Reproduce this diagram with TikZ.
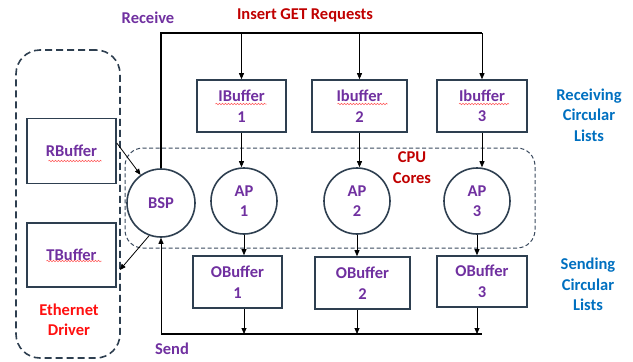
\documentclass[tikz,border=0pt]{standalone}
\usepackage{fontspec}
\setmainfont{Carlito}
\usetikzlibrary{arrows.meta,decorations.pathmorphing}
\definecolor{boxline}{HTML}{2E3F50}
\definecolor{cpuline}{HTML}{3A4A5E}
\definecolor{lblpurple}{HTML}{7030A0}
\definecolor{lbldarkred}{HTML}{C00000}
\definecolor{lblred}{HTML}{FF1010}
\definecolor{lblblue}{HTML}{0070C0}
\begin{document}
\begin{tikzpicture}[x=1pt,y=-1pt,
  txt/.style={font=\fontsize{16.5}{20.5}\selectfont\bfseries, align=center, inner sep=0pt},
  buf/.style={draw=boxline, line width=1.6pt, fill=white, txt, text=lblpurple},
  core/.style={circle, draw=boxline, line width=1.6pt, fill=white, txt, text=lblpurple, minimum size=66pt},
  arr/.style={-{Triangle[length=6pt,width=5pt]}, line width=0.8pt},
  bus/.style={line width=1.6pt},
  spell/.style={draw=red!65, line width=0.5pt, decorate,
    decoration={snake, amplitude=0.8pt, segment length=3pt}},
]
\path[use as bounding box] (0,0) rectangle (633,362);

% containers
\node[draw=boxline, line width=1.6pt, dash pattern=on 7pt off 4pt,
  rounded corners=24pt, minimum width=104pt, minimum height=308pt] (eth) at (68,204) {};
\node[draw=cpuline, line width=1pt, dash pattern=on 4pt off 2.5pt,
  rounded corners=18pt, minimum width=410pt, minimum height=100pt] (cpu) at (330,198) {};

% driver buffers
\node[buf, minimum width=89pt, minimum height=65pt] (RB) at (71.5,151) {RBuffer};
\node[buf, minimum width=89pt, minimum height=64pt] (TB) at (71.5,255) {TBuffer};

% receiving lists
\node[buf, minimum width=89pt, minimum height=52pt] (IB1) at (241.5,106) {IBuffer\\1};
\node[buf, minimum width=95pt, minimum height=52pt] (IB2) at (359.5,106) {Ibuffer\\2};
\node[buf, minimum width=90pt, minimum height=52pt] (IB3) at (482,106) {Ibuffer\\3};

% cores
\node[core, minimum size=68pt] (BSP) at (161,203) {BSP};
\node[core] (AP1) at (244,201) {AP\\1};
\node[core] (AP2) at (357,201) {AP\\2};
\node[core] (AP3) at (477,201) {AP\\3};

% sending lists
\node[buf, minimum width=89pt, minimum height=52pt] (OB1) at (237.5,282) {OBuffer\\1};
\node[buf, minimum width=95pt, minimum height=52pt] (OB2) at (362.5,283) {OBuffer\\2};
\node[buf, minimum width=90pt, minimum height=51pt] (OB3) at (482,281.5) {OBuffer\\3};

% labels
\node[txt, text=lblpurple] (recv) at (148,18) {Receive};
\node[txt, text=lbldarkred] (ins) at (305,15) {Insert GET Requests};
\node[txt, text=lblpurple] (send) at (172,349) {Send};
\node[txt, text=lbldarkred] (cores) at (412,167.5) {CPU\\Cores};
\node[txt, text=lblred] (drv) at (69,320) {Ethernet\\Driver};
\node[txt, text=lblblue] (rcl) at (589,115) {Receiving\\Circular\\Lists};
\node[txt, text=lblblue] (scl) at (588,284.5) {Sending\\Circular\\Lists};

% top bus: insert requests
\coordinate (topR) at (482,33);
\draw[bus] (BSP.north) -- (BSP.north |- topR) -- (topR);
\draw[arr] (IB1.north |- topR) -- (IB1.north);
\draw[arr] (IB2.north |- topR) -- (IB2.north);
\draw[arr] (IB3.north |- topR) -- (IB3.north);

% receiving lists to cores
\draw[arr] (IB1.south) -- (IB1.south |- AP1.north);
\draw[arr] (IB2.south) -- (IB2.south |- AP2.north);
\draw[arr] (IB3.south) -- (IB3.south |- AP3.north);

% cores to sending lists
\draw[arr] (AP1.south) -- (AP1.south |- OB1.north);
\draw[arr] (AP2.south) -- (AP2.south |- OB2.north);
\draw[arr] (AP3.south) -- (AP3.south |- OB3.north);

% bottom bus: send
\coordinate (botR) at (482,334);
\coordinate (botL) at (BSP.south |- botR);
\draw[bus] (botL) -- (botR);
\draw[arr] (botL) -- (BSP.south);
\draw[arr] (AP1.south |- OB1.south) -- (AP1.south |- botR);
\draw[arr] (AP2.south |- OB2.south) -- (AP2.south |- botR);
\draw[arr] (AP3.south |- OB3.south) -- (AP3.south |- botR);

% driver buffers and BSP
\draw[arr] ([yshift=8pt]RB.east) -- (BSP.126);
\draw[arr] (BSP.250) -- ([xshift=3pt,yshift=-15pt]TB.east);

% spell-check underlines
\draw[spell] ([shift={(-26,-2)}]IB1.center) -- ++(51,0);
\draw[spell] ([shift={(-22,-2)}]IB2.center) -- ++(50,0);
\draw[spell] ([shift={(-23,-2)}]IB3.center) -- ++(50,0);
\draw[spell] ([shift={(-23,10)}]RB.center) -- ++(53,0);
\draw[spell] ([shift={(-25,6)}]TB.center) -- ++(55,0);
\end{tikzpicture}
\end{document}
